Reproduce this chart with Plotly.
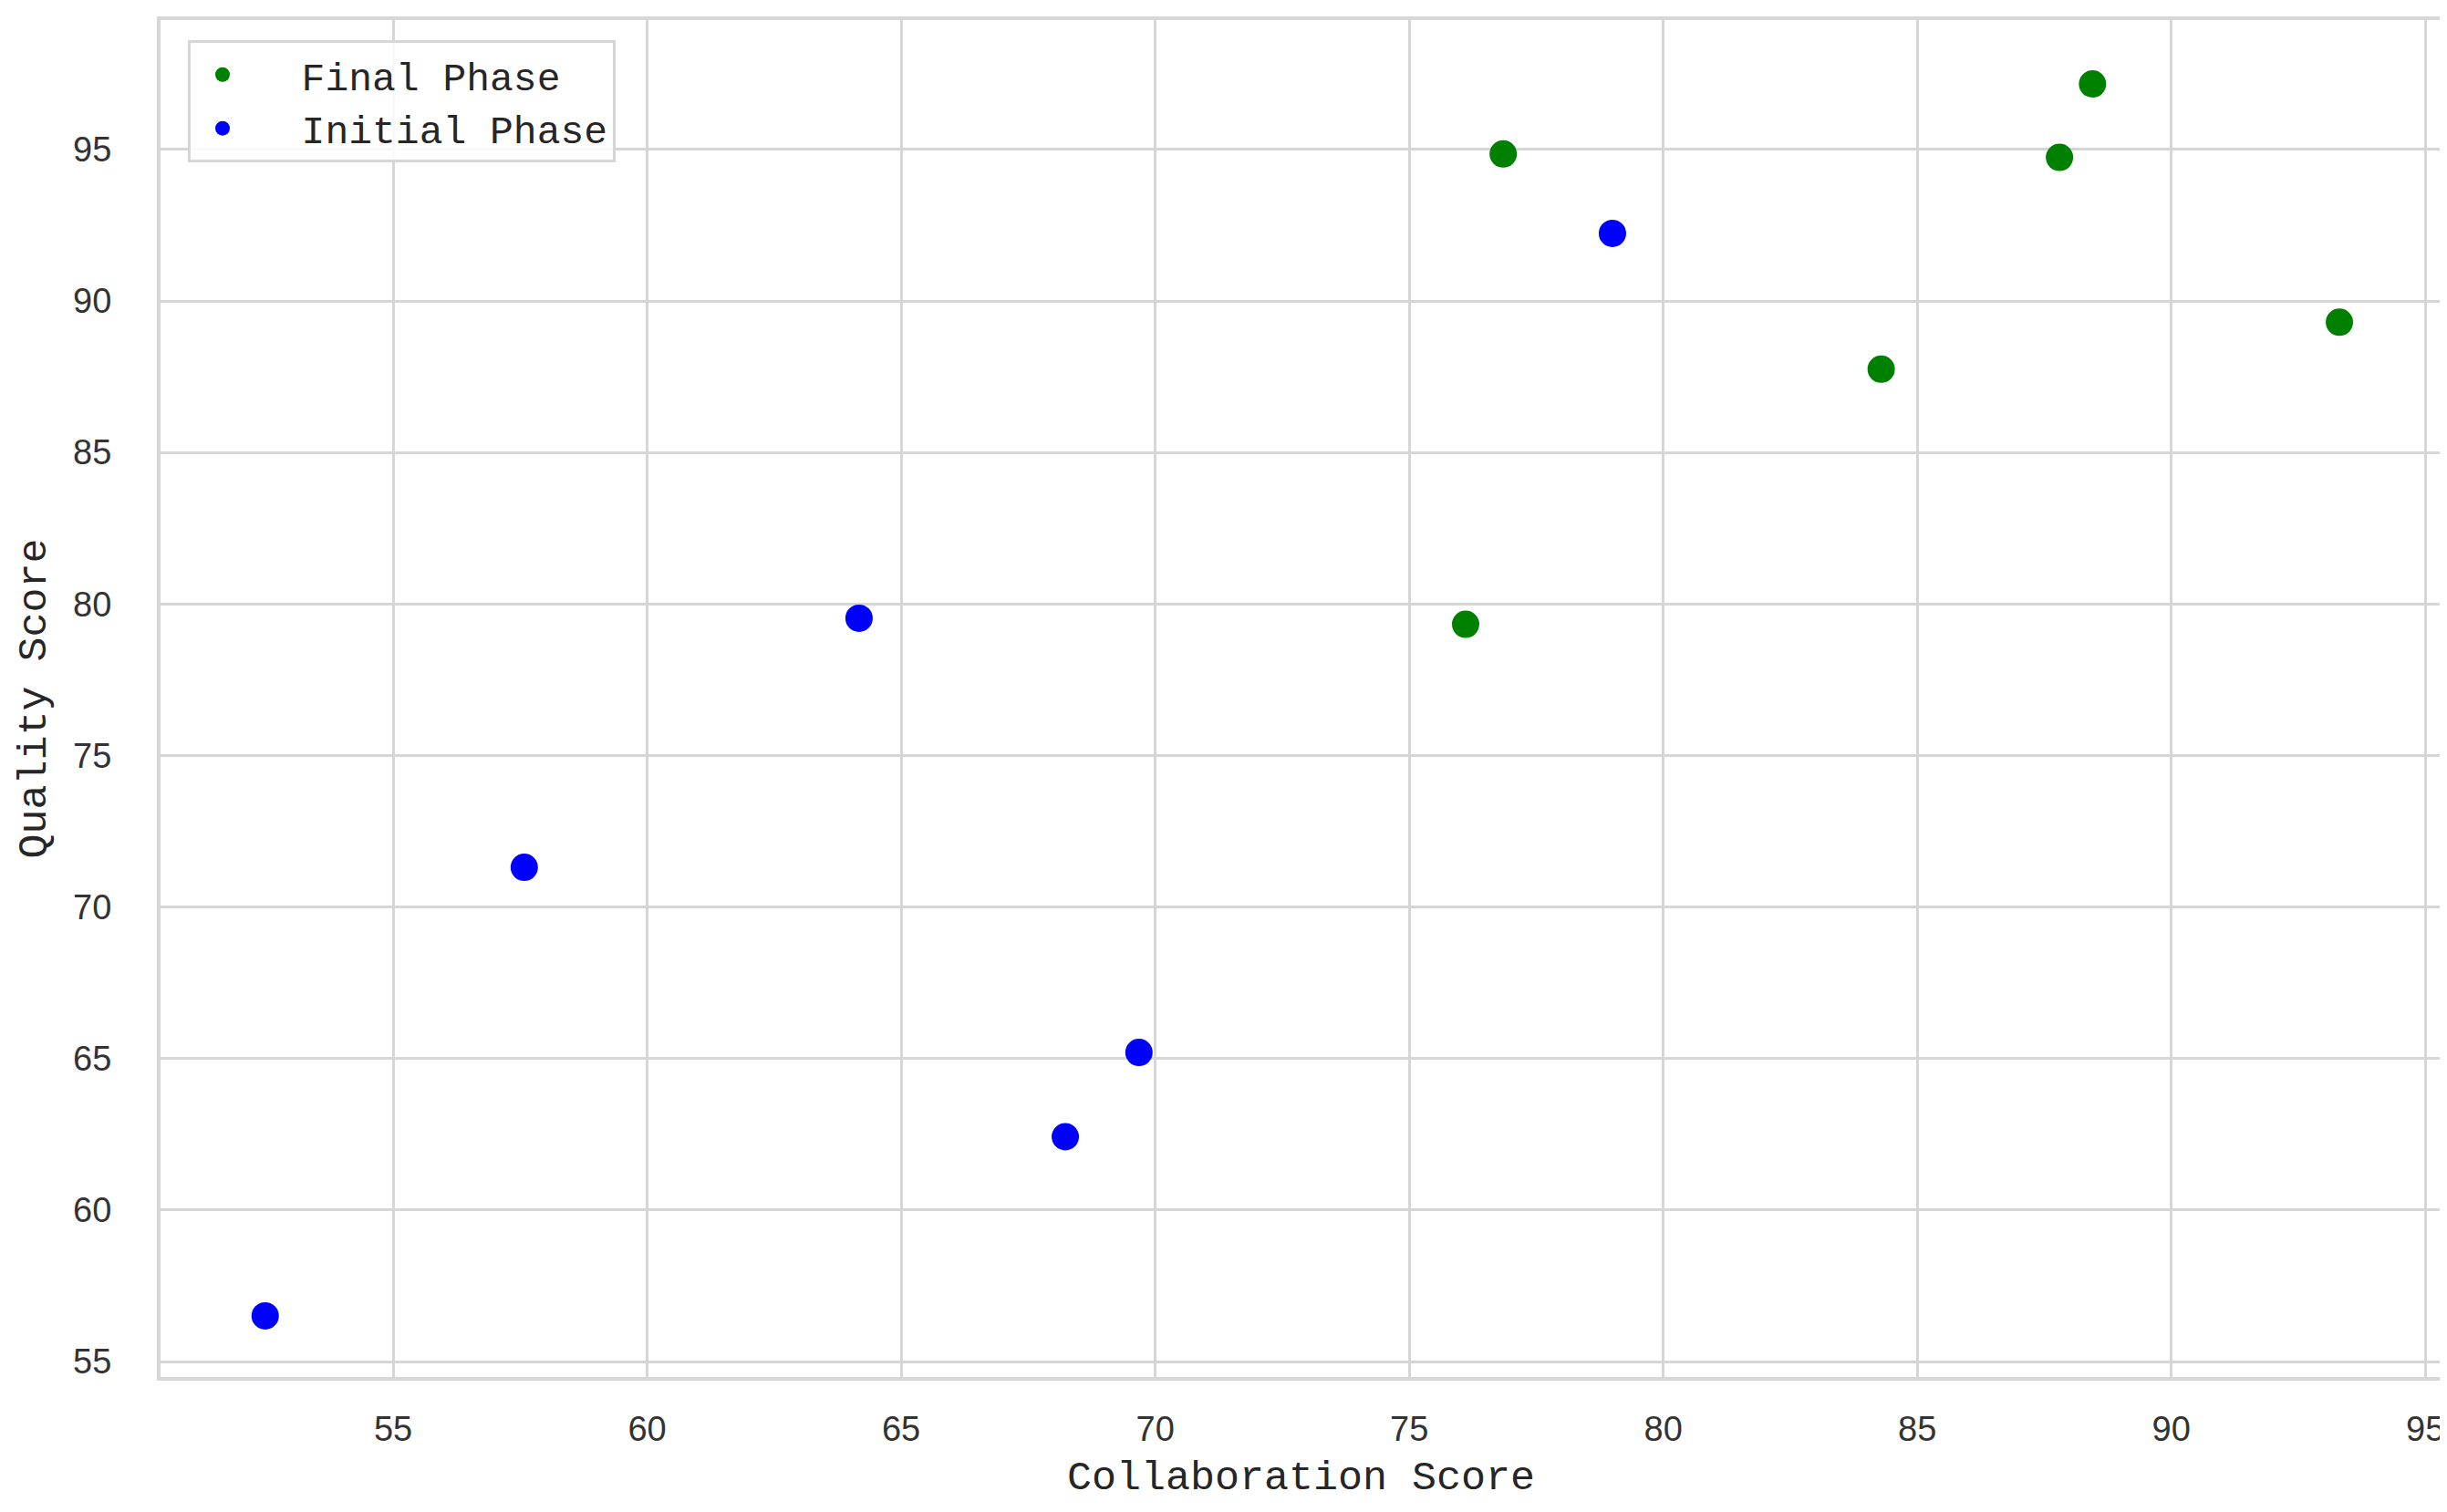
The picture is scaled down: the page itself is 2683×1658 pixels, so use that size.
import plotly.graph_objects as go

# Collaboration vs quality scores, two phases
final_collab = [76.85, 88.45, 87.8, 84.29, 93.31, 76.11]
final_quality = [94.85, 97.16, 94.74, 87.75, 89.3, 79.33]

initial_collab = [79.0, 64.17, 57.58, 69.68, 68.23, 52.48]
initial_quality = [92.23, 79.53, 71.31, 65.2, 62.42, 56.51]

x_ticks = [55, 60, 65, 70, 75, 80, 85, 90, 95]
y_ticks = [55, 60, 65, 70, 75, 80, 85, 90, 95]

MONO = "Liberation Mono, DejaVu Sans Mono, monospace"
GRID = "#d6d6d6"

fig = go.Figure()
fig.add_trace(go.Scatter(
    x=final_collab, y=final_quality, mode="markers", name="  Final Phase",
    marker=dict(color="green", size=30, line=dict(width=0)),
))
fig.add_trace(go.Scatter(
    x=initial_collab, y=initial_quality, mode="markers", name="  Initial Phase",
    marker=dict(color="blue", size=30, line=dict(width=0)),
))

axis_common = dict(
    showgrid=True, gridcolor=GRID, gridwidth=3,
    showline=True, linecolor=GRID, linewidth=4, mirror=True,
    zeroline=False, ticks="",
    tickfont=dict(family="Liberation Sans Narrow, Liberation Sans, sans-serif", size=38, color="#333333"),
)

fig.update_xaxes(
    range=[50.42, 95.32], tickvals=x_ticks, ticklabelstandoff=20,
    title=dict(text="Collaboration Score", font=dict(family=MONO, size=45, color="#262626"), standoff=16),
    **axis_common,
)
fig.update_yaxes(
    range=[54.49, 99.27], tickvals=y_ticks, ticklabelstandoff=42,
    title=dict(text="Quality Score", font=dict(family=MONO, size=45, color="#262626"), standoff=16),
    **axis_common,
)

fig.update_layout(
    width=2683, height=1658,
    plot_bgcolor="white", paper_bgcolor="white",
    margin=dict(l=168, r=12, t=10, b=156),
    showlegend=True,
    legend=dict(
        x=0.012, y=0.985, xanchor="left", yanchor="top",
        bgcolor="rgba(255,255,255,0.85)", bordercolor=GRID, borderwidth=3,
        font=dict(family=MONO, size=43, color="#262626"),
        itemsizing="trace", itemwidth=60, tracegroupgap=0,
    ),
)

fig.write_html("out.html")
